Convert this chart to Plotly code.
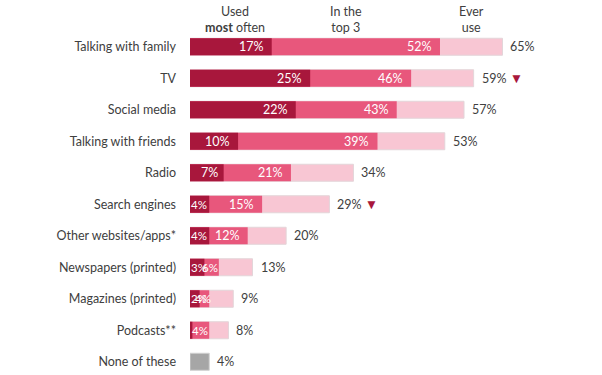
import plotly.graph_objects as go

categories = ["Talking with family", "TV", "Social media", "Talking with friends", "Radio",
              "Search engines", "Other websites/apps*", "Newspapers (printed)",
              "Magazines (printed)", "Podcasts**", "None of these"]
most_often = [17, 25, 22, 10, 7, 4, 4, 3, 2, 0.5, None]
top3 = [52, 46, 43, 39, 21, 15, 12, 6, 4, 4, None]
ever_use = [65, 59, 57, 53, 34, 29, 20, 13, 9, 8, None]
none_val = [None] * 10 + [4]
most_labels = ["17%", "25%", "22%", "10%", "7%", "4%", "4%", "3%", "2%", "", ""]
top3_labels = ["52%", "46%", "43%", "39%", "21%", "15%", "12%", "6%", "4%", "4%", ""]
ever_labels = ["65%", "59%", "57%", "53%", "34%", "29%", "20%", "13%", "9%", "8%", "4%"]
decline = [False, True, False, False, False, True, False, False, False, False, False]

DARK = "#A8173C"
MID = "#E8577C"
LIGHT = "#F8C6D3"
GREY = "#A6A6A6"
TXT = "#404040"
FONT = "Lato"
FS = 12.5

fig = go.Figure()
bw = 0.54
fig.add_bar(y=categories, x=ever_use, orientation="h", width=bw,
            marker=dict(color=LIGHT, line=dict(color="#E3D5D9", width=1)), hoverinfo="skip")
fig.add_bar(y=categories, x=top3, orientation="h", width=bw,
            marker=dict(color=MID, line=dict(width=0)), hoverinfo="skip")
fig.add_bar(y=categories, x=most_often, orientation="h", width=bw,
            marker=dict(color=DARK, line=dict(width=0)), hoverinfo="skip")
fig.add_bar(y=categories, x=none_val, orientation="h", width=bw,
            marker=dict(color=GREY, line=dict(color="#D0D0D0", width=1)), hoverinfo="skip")


def inner_label(v, text, c, first, crowded=False):
    # inside-end label; very short bars get the label clamped to the bar start
    size = FS if v >= 7 else 11.5
    if first and v < 5:
        return dict(x=0, y=c, text=text, xanchor="left", xshift=-1, showarrow=False,
                    font=dict(color="white", size=size, family=FONT))
    shift = -6 if v >= 10 else (-4 if v >= 7 else (4 if crowded else 1))
    return dict(x=v, y=c, text=text, xanchor="right", xshift=shift, showarrow=False,
                font=dict(color="white", size=size, family=FONT))


ann = []
for i, c in enumerate(categories):
    if most_labels[i]:
        ann.append(inner_label(most_often[i], most_labels[i], c, True))
    if top3_labels[i]:
        crowded = bool(most_labels[i]) and top3[i] < 5
        ann.append(inner_label(top3[i], top3_labels[i], c, False, crowded))
    endv = ever_use[i] if ever_use[i] is not None else none_val[i]
    t = ever_labels[i]
    if decline[i]:
        t += " <span style='color:%s;font-size:13.5px'>▼</span>" % DARK
    ann.append(dict(x=endv, y=c, text=t, xanchor="left", xshift=6,
                    showarrow=False, font=dict(color=TXT, size=FS, family=FONT)))

headers = [(9.4, "Used<br><b>most</b> often"), (32.4, "In the<br>top 3"), (58.6, "Ever<br>use")]
for x, t in headers:
    ann.append(dict(x=x, xref="x", y=1, yref="paper", yanchor="bottom", yshift=-6, text=t,
                    showarrow=False, align="center",
                    font=dict(color=TXT, size=FS, family=FONT)))

fig.update_layout(
    width=602, height=375, barmode="overlay",
    margin=dict(l=189.5, r=0, t=31, b=0),
    paper_bgcolor="white", plot_bgcolor="white", showlegend=False,
    font=dict(family=FONT, color=TXT, size=FS),
    annotations=ann,
)
fig.update_xaxes(range=[0, 85.7], visible=False, showgrid=False, zeroline=False)
fig.update_yaxes(categoryorder="array", categoryarray=categories, range=[10.42, -0.5],
                 autorange=False, automargin=False, showgrid=False, zeroline=False,
                 showline=False, ticks="", ticklabelstandoff=13,
                 tickfont=dict(size=FS, color=TXT, family=FONT))

fig.write_html("out.html", config={"displayModeBar": False},
               post_script="document.body.style.margin='0';document.body.style.overflow='hidden';")
